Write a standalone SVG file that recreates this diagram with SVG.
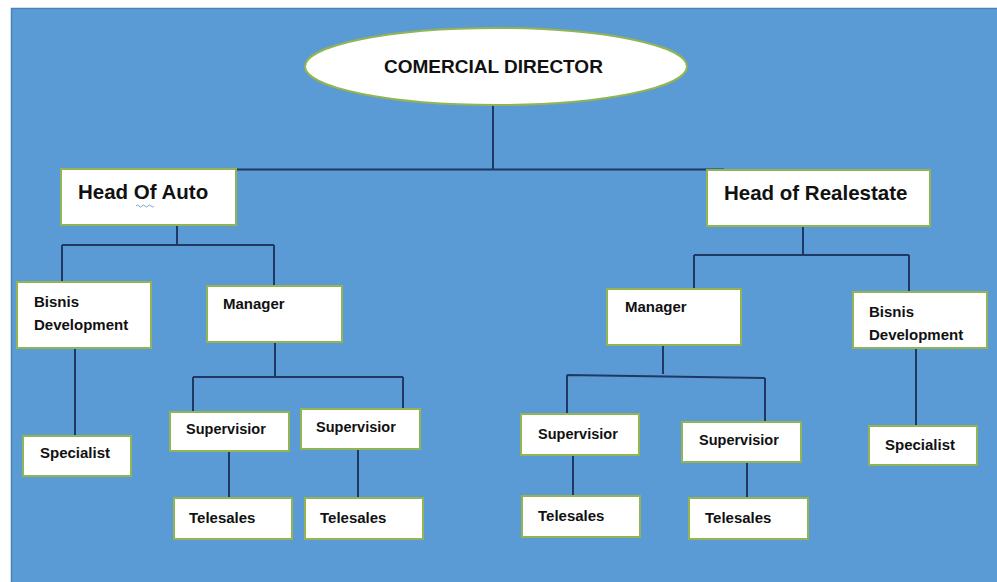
<svg xmlns="http://www.w3.org/2000/svg" width="997" height="582" viewBox="0 0 997 582">
<style>
.box{fill:#ffffff;stroke:#92B552;stroke-width:2}
.t{font-family:"Liberation Sans",Arial,sans-serif;font-weight:bold;fill:#111111}
.s15{font-size:15px}
.s14{font-size:14.5px}
.s20{font-size:20.5px}
.ln{stroke:#1F3864;stroke-width:2;fill:none}
</style>
<rect x="0" y="0" width="997" height="582" fill="#ffffff"/>
<rect x="11.5" y="8.5" width="990" height="580" fill="#5B9BD5" stroke="#4A82B8" stroke-width="1.5"/>
<g id="connectors">
<path class="ln" d="M493 105 V170 M222 169.5 H724"/>
<path class="ln" d="M177 225 V245 M62 245 H274 M62 245 V282 M274 245 V286"/>
<path class="ln" d="M75 348 V436"/>
<path class="ln" d="M275 342 V377 M193 377 H403 M193 377 V412 M403 377 V409"/>
<path class="ln" d="M229 451 V498 M358 449 V498"/>
<path class="ln" d="M803 226 V255 M694 255 H909 M694 255 V289 M909 255 V292"/>
<path class="ln" d="M916 348 V426"/>
<path class="ln" d="M663 345 V374 M567 375 L765 378 M567 375 V414 M765 378 V422"/>
<path class="ln" d="M573 455 V496 M747 462 V498"/>
</g>
<g id="director">
<ellipse cx="496" cy="66.5" rx="191" ry="38.5" fill="#ffffff" stroke="#92B552" stroke-width="2"/>
<text class="t" x="384" y="73" font-size="19px">COMERCIAL DIRECTOR</text>
</g>
<g id="head-auto">
<rect class="box" x="61" y="169" width="175" height="56"/>
<text class="t s20" x="78" y="199">Head Of Auto</text>
<path d="M136 206 q1.5 -2 3 0 t3 0 t3 0 t3 0 t3 0 t3 0" stroke="#7FA3C8" stroke-width="1" fill="none"/>
</g>
<g id="head-realestate">
<rect class="box" x="707" y="170" width="223" height="56"/>
<text class="t s20" x="724" y="200">Head of Realestate</text>
</g>
<g id="bisnis-left">
<rect class="box" x="17" y="282" width="134" height="66"/>
<text class="t s15" x="34" y="307">Bisnis</text>
<text class="t s15" x="34" y="330">Development</text>
</g>
<g id="manager-left">
<rect class="box" x="207" y="286" width="135" height="56"/>
<text class="t s15" x="223" y="309">Manager</text>
</g>
<g id="specialist-left">
<rect class="box" x="23" y="436" width="108" height="40"/>
<text class="t s15" x="40" y="458">Specialist</text>
</g>
<g id="supervisor-l1">
<rect class="box" x="170" y="412" width="119" height="39"/>
<text class="t s14" x="186" y="434">Supervisior</text>
</g>
<g id="supervisor-l2">
<rect class="box" x="301" y="409" width="119" height="40"/>
<text class="t s14" x="316" y="432">Supervisior</text>
</g>
<g id="telesales-l1">
<rect class="box" x="174" y="498" width="118" height="41"/>
<text class="t s15" x="189" y="523">Telesales</text>
</g>
<g id="telesales-l2">
<rect class="box" x="305" y="498" width="118" height="41"/>
<text class="t s15" x="320" y="523">Telesales</text>
</g>
<g id="manager-right">
<rect class="box" x="607" y="289" width="134" height="56"/>
<text class="t s15" x="625" y="312">Manager</text>
</g>
<g id="bisnis-right">
<rect class="box" x="853" y="292" width="134" height="56"/>
<text class="t s15" x="869" y="317">Bisnis</text>
<text class="t s15" x="869" y="340">Development</text>
</g>
<g id="specialist-right">
<rect class="box" x="869" y="426" width="108" height="39"/>
<text class="t s15" x="885" y="450">Specialist</text>
</g>
<g id="supervisor-r1">
<rect class="box" x="521" y="414" width="118" height="41"/>
<text class="t s14" x="538" y="439">Supervisior</text>
</g>
<g id="supervisor-r2">
<rect class="box" x="682" y="422" width="119" height="40"/>
<text class="t s14" x="699" y="445">Supervisior</text>
</g>
<g id="telesales-r1">
<rect class="box" x="522" y="496" width="118" height="41"/>
<text class="t s15" x="538" y="521">Telesales</text>
</g>
<g id="telesales-r2">
<rect class="box" x="689" y="498" width="119" height="41"/>
<text class="t s15" x="705" y="523">Telesales</text>
</g>
</svg>
